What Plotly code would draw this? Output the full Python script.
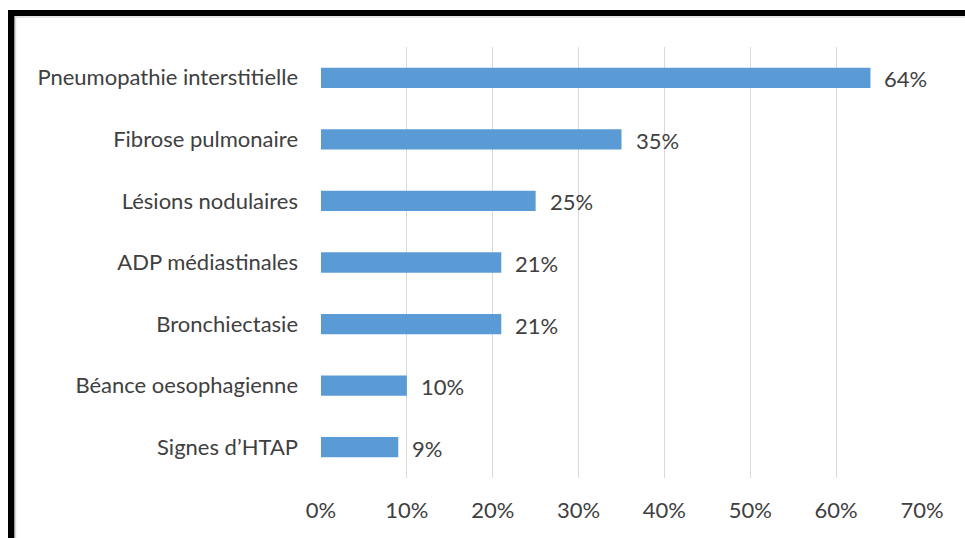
import plotly.graph_objects as go

# Imaging findings and their frequency (%)
categories = [
    "Pneumopathie interstitielle",
    "Fibrose pulmonaire",
    "Lésions nodulaires",
    "ADP médiastinales",
    "Bronchiectasie",
    "Béance oesophagienne",
    "Signes d’HTAP",
]
values = [64, 35, 25, 21, 21, 10, 9]
tick_values = [0, 10, 20, 30, 40, 50, 60, 70]
tick_labels = ["0%", "10%", "20%", "30%", "40%", "50%", "60%", "70%"]

W, H = 965, 538
L, R, T, B = 321, 43, 47, 60
pw, ph = W - L - R, H - T - B

FONT = "Lato"
TXT = "#404040"
BAR = "#5B9BD5"
FS = 22


def px_x(p):
    return (p - L) / pw


def px_y(p):
    return (H - B - p) / ph


fig = go.Figure(
    go.Bar(
        x=values,
        y=categories,
        orientation="h",
        marker=dict(color=BAR, line=dict(width=0)),
        hoverinfo="skip",
    )
)

# value labels to the right of each bar
for cat, v in zip(categories, values):
    fig.add_annotation(
        x=v, y=cat, text=f"{v}%", showarrow=False,
        xanchor="left", yanchor="middle", xshift=12, yshift=-1,
        font=dict(family=FONT, size=FS, color=TXT),
    )

# frame: thick black border on top and left with a faint inner edge
shapes = [
    dict(type="rect", xref="paper", yref="paper",
         x0=px_x(8), x1=px_x(W + 5), y0=px_y(16), y1=px_y(10),
         fillcolor="black", line=dict(width=0), layer="above"),
    dict(type="rect", xref="paper", yref="paper",
         x0=px_x(8), x1=px_x(14.5), y0=px_y(H + 5), y1=px_y(10),
         fillcolor="black", line=dict(width=0), layer="above"),
    dict(type="line", xref="paper", yref="paper",
         x0=px_x(15), x1=px_x(W + 5), y0=px_y(17), y1=px_y(17),
         line=dict(color="#dcdcdc", width=1.5)),
    dict(type="line", xref="paper", yref="paper",
         x0=px_x(15.5), x1=px_x(15.5), y0=px_y(17), y1=px_y(H + 5),
         line=dict(color="#dcdcdc", width=1.5)),
]

fig.update_layout(
    width=W, height=H,
    margin=dict(l=L, r=R, t=T, b=B),
    paper_bgcolor="white", plot_bgcolor="white",
    bargap=0.67,
    showlegend=False,
    shapes=shapes,
    font=dict(family=FONT, size=FS, color=TXT),
    xaxis=dict(
        range=[0, 70], tickvals=tick_values, ticktext=tick_labels,
        showgrid=True, gridcolor="#d9d9d9", gridwidth=1,
        zeroline=False, showline=False, ticks="",
        ticklabelstandoff=17,
        tickfont=dict(family=FONT, size=FS, color=TXT),
        fixedrange=True,
    ),
    yaxis=dict(
        categoryorder="array", categoryarray=categories[::-1],
        showgrid=False, zeroline=False, showline=False, ticks="",
        ticklabelstandoff=22,
        tickfont=dict(family=FONT, size=FS, color=TXT),
        fixedrange=True,
    ),
)

fig.write_html("out.html")
